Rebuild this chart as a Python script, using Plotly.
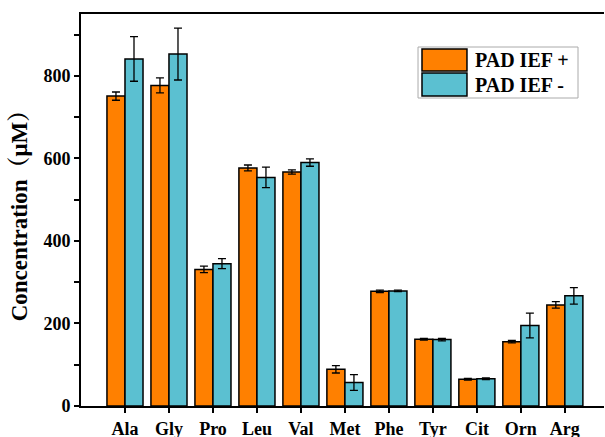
import plotly.graph_objects as go

categories = ["Ala", "Gly", "Pro", "Leu", "Val", "Met", "Phe", "Tyr", "Cit", "Orn", "Arg"]
pad_plus = [751, 777, 331, 577, 567, 89, 278, 162, 65, 156, 245]
pad_plus_err = [10, 18, 8, 7, 5, 9, 3, 2, 2, 3, 8]
pad_minus = [841, 853, 345, 554, 590, 57, 279, 161, 66, 195, 267]
pad_minus_err = [54, 63, 12, 25, 9, 19, 2, 3, 2, 30, 20]
series_names = ["PAD IEF +", "PAD IEF -"]
y_ticks = [0, 200, 400, 600, 800]

ORANGE = "#FF8000"
CYAN = "#5BC0D1"
SERIF = "Liberation Serif, Times New Roman, Noto Serif CJK SC, Noto Sans CJK SC, serif"

fig = go.Figure()
for name, vals, errs, col in [
    (series_names[0], pad_plus, pad_plus_err, ORANGE),
    (series_names[1], pad_minus, pad_minus_err, CYAN),
]:
    fig.add_trace(go.Bar(
        name=name, x=categories, y=vals,
        marker=dict(color=col, line=dict(color="black", width=1.5)),
        error_y=dict(type="data", array=errs, color="black", thickness=1.3, width=4),
        showlegend=False,
    ))

# manual legend (box, swatches, labels)
fig.add_shape(type="rect", xref="paper", yref="paper", x0=0.6444, x1=0.9503, y0=0.7857, y1=0.9158,
              line=dict(color="#AAAAAA", width=1), fillcolor="white", layer="above")
for i, (name, col) in enumerate(zip(series_names, [ORANGE, CYAN])):
    y0, y1 = [(0.8546, 0.9107), (0.7908, 0.8495)][i]
    fig.add_shape(type="rect", xref="paper", yref="paper", x0=0.652, x1=0.738, y0=y0, y1=y1,
                  line=dict(color="black", width=1.5), fillcolor=col, layer="above")
    fig.add_annotation(xref="paper", yref="paper", x=0.7495, y=(y0 + y1) / 2, text=name,
                       showarrow=False, xanchor="left", yanchor="middle",
                       font=dict(family=SERIF, size=20, color="black", weight="bold"))

fig.update_layout(
    width=605, height=437,
    margin=dict(l=81, r=1, t=14, b=31),
    paper_bgcolor="white", plot_bgcolor="white",
    barmode="group", bargap=0.18, bargroupgap=0,
    font=dict(family=SERIF, size=18, color="black"),
    xaxis=dict(
        range=[-1, 10.89], showline=True, linecolor="black", linewidth=2, mirror=True,
        ticks="outside", ticklen=5, tickwidth=1.5, tickcolor="black",
        tickfont=dict(family=SERIF, size=18, color="black", weight="bold"),
        showgrid=False, zeroline=False, automargin=False,
    ),
    yaxis=dict(
        range=[0, 950], showline=True, linecolor="black", linewidth=2,
        tickvals=y_ticks, ticks="outside", ticklen=5, tickwidth=1.5, tickcolor="black",
        minor=dict(dtick=100, tick0=0, ticks="outside", ticklen=5, tickwidth=1.5, tickcolor="black", showgrid=False),
        tickfont=dict(family=SERIF, size=18, color="black", weight="bold"),
        showgrid=False, zeroline=False, automargin=False,
        title=dict(text="Concentration（μM）", standoff=9,
                   font=dict(family=SERIF, size=23, color="black", weight="bold")),
    ),
)

fig.write_html("out.html", config={"displayModeBar": False},
               post_script="document.body.style.margin='0';document.body.style.padding='0';")
